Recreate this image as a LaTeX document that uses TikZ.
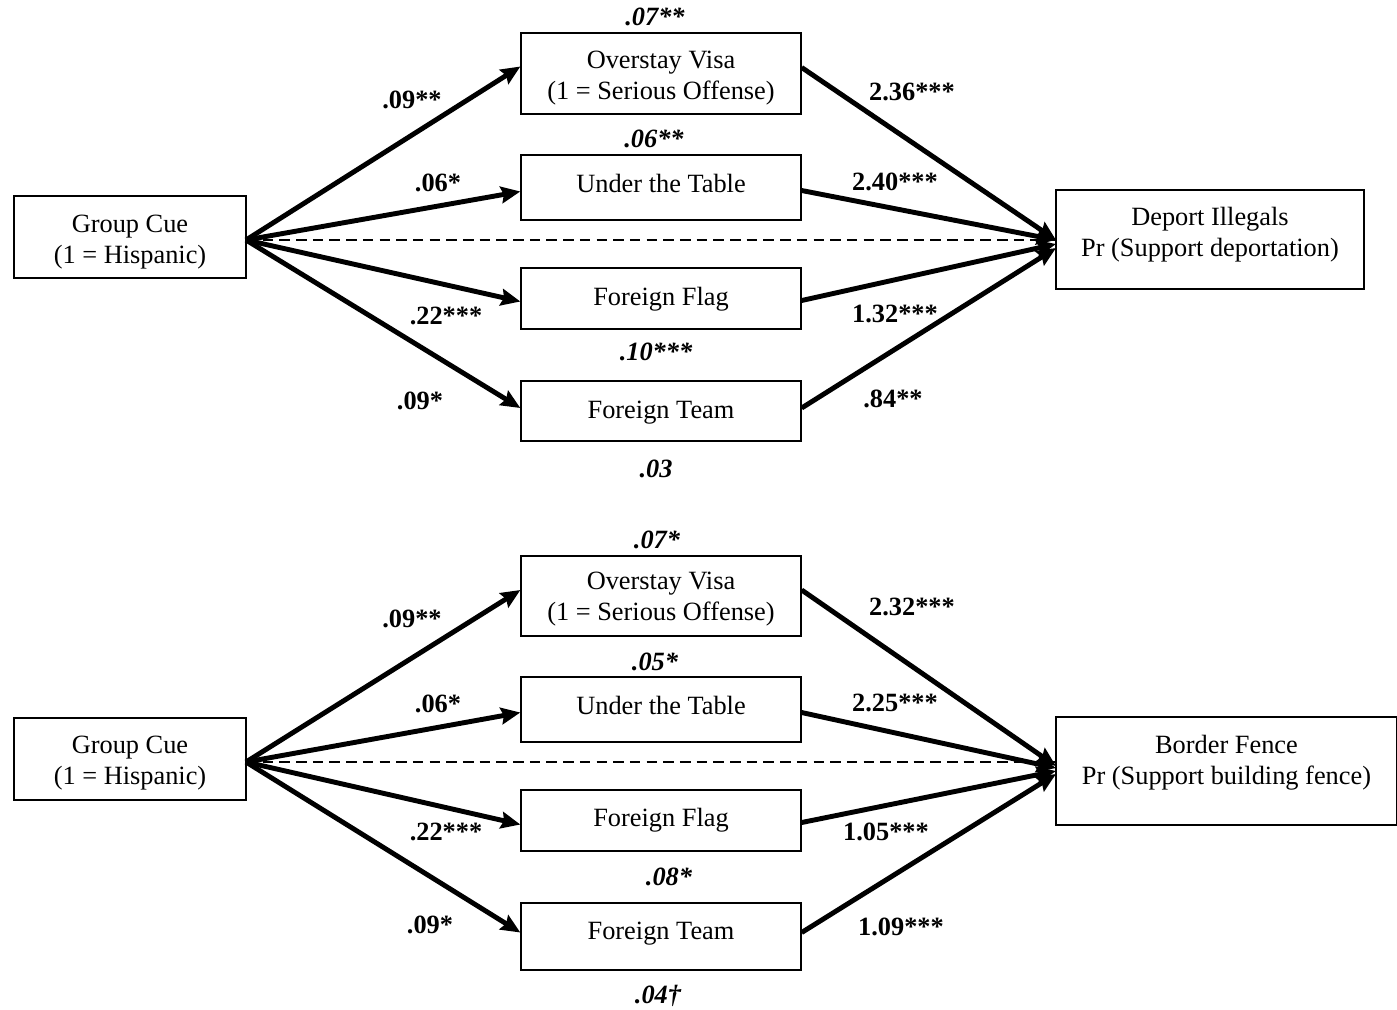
\documentclass[tikz,border=0pt]{standalone}
\usepackage{fontspec}
\setmainfont{Liberation Serif}
\usetikzlibrary{arrows.meta,calc}
\begin{document}
\begin{tikzpicture}[x=0.02cm,y=-0.02cm,
  box/.style={draw,line width=0.8pt,inner sep=0pt},
  txt/.style={inner sep=0pt,align=center,font=\fontsize{15}{17.6}\selectfont},
  arr/.style={line width=2.8pt,-{Stealth[length=11pt,width=9.5pt,inset=1.5pt]}},
  dsh/.style={line width=0.9pt,dash pattern=on 6pt off 3.5pt},
  lab/.style={font=\fontsize{15}{17.6}\selectfont\bfseries},
  ilab/.style={font=\fontsize{15}{17.6}\selectfont\bfseries\itshape}]
\useasboundingbox (0,0) rectangle (1397,1009);
% ---------- top panel ----------
\node[box,minimum width=4.64cm,minimum height=1.64cm] (gcA) at (130,237) {};
\node[box,minimum width=5.6cm,minimum height=1.62cm] (ovA) at (661,73.5) {};
\node[box,minimum width=5.6cm,minimum height=1.3cm] (utA) at (661,187.5) {};
\node[box,minimum width=5.6cm,minimum height=1.22cm] (ffA) at (661,298.5) {};
\node[box,minimum width=5.6cm,minimum height=1.2cm] (ftA) at (661,411) {};
\node[box,minimum width=6.16cm,minimum height=1.98cm] (dpA) at (1210,239.5) {};
\node[txt] (gcAt) at (130,242) {Group Cue\\(1 = Hispanic)};
\node[txt] (ovAt) at (661,78.5) {Overstay Visa\\(1 = Serious Offense)};
\node[txt] (utAt) at (661,183) {Under the Table};
\node[txt] (ffAt) at (661,299) {Foreign Flag};
\node[txt] (ftAt) at (661,413) {Foreign Team};
\node[txt] (dpAt) at (1210,234.5) {Deport Illegals\\Pr (Support deportation)};
\coordinate (sA) at (246,240);
\coordinate (tA) at (1056,240);
\draw[arr] (sA) -- ($(ovA.west)+(0,-7)$);
\draw[arr] (sA) -- ($(utA.west)+(0,4)$);
\draw[arr] (sA) -- ($(ffA.west)+(0,3)$);
\draw[arr] (sA) -- ($(ftA.west)+(0,-3)$);
\draw[dsh] (sA) -- (tA);
\draw[arr] ($(ovA.east)+(0,-6)$) -- (tA);
\draw[arr] ($(utA.east)+(0,3)$) -- (tA);
\draw[arr] ($(ffA.east)+(0,2)$) -- ($(tA)+(0,4)$);
\draw[arr] ($(ftA.east)+(0,-3)$) -- ($(tA)+(0,8)$);
\node[ilab] (lA1) at (655,17) {.07**};
\node[lab] (lA2) at (412,100) {.09**};
\node[lab] (lA3) at (912,92) {2.36***};
\node[ilab] (lA4) at (654,139) {.06**};
\node[lab] (lA5) at (438,183) {.06*};
\node[lab] (lA6) at (895,182) {2.40***};
\node[lab] (lA7) at (446,316) {.22***};
\node[lab] (lA8) at (895,314) {1.32***};
\node[ilab] (lA9) at (656,352) {.10***};
\node[lab] (lA10) at (420,401) {.09*};
\node[lab] (lA11) at (893,399) {.84**};
\node[ilab] (lA12) at (656,469) {.03};
% ---------- bottom panel ----------
\node[box,minimum width=4.64cm,minimum height=1.64cm] (gcB) at (130,759) {};
\node[box,minimum width=5.6cm,minimum height=1.6cm] (ovB) at (661,596) {};
\node[box,minimum width=5.6cm,minimum height=1.3cm] (utB) at (661,709.5) {};
\node[box,minimum width=5.6cm,minimum height=1.22cm] (ffB) at (661,820.5) {};
\node[box,minimum width=5.6cm,minimum height=1.34cm] (ftB) at (661,936.5) {};
\node[box,minimum width=6.82cm,minimum height=2.16cm] (bfB) at (1226.5,771) {};
\node[txt] (gcBt) at (130,763.5) {Group Cue\\(1 = Hispanic)};
\node[txt] (ovBt) at (661,599) {Overstay Visa\\(1 = Serious Offense)};
\node[txt] (utBt) at (661,705) {Under the Table};
\node[txt] (ffBt) at (661,820) {Foreign Flag};
\node[txt] (ftBt) at (661,934) {Foreign Team};
\node[txt] (bfBt) at (1226.5,763) {Border Fence\\Pr (Support building fence)};
\coordinate (sB) at (246,762);
\coordinate (tB) at (1056,766);
\draw[arr] (sB) -- ($(ovB.west)+(0,-6)$);
\draw[arr] (sB) -- ($(utB.west)+(0,3)$);
\draw[arr] (sB) -- ($(ffB.west)+(0,4)$);
\draw[arr] (sB) -- ($(ftB.west)+(0,-4)$);
\draw[dsh] (sB) -- ($(tB)+(0,-4)$);
\draw[arr] ($(ovB.east)+(0,-6)$) -- (tB);
\draw[arr] ($(utB.east)+(0,3)$) -- ($(tB)+(0,2)$);
\draw[arr] ($(ffB.east)+(0,2)$) -- ($(tB)+(0,5)$);
\draw[arr] ($(ftB.east)+(0,-4)$) -- ($(tB)+(0,8)$);
\node[ilab] (lB1) at (657,540) {.07*};
\node[lab] (lB2) at (412,619) {.09**};
\node[lab] (lB3) at (912,607) {2.32***};
\node[ilab] (lB4) at (655,662) {.05*};
\node[lab] (lB5) at (438,704) {.06*};
\node[lab] (lB6) at (895,703) {2.25***};
\node[lab] (lB7) at (446,832) {.22***};
\node[lab] (lB8) at (886,832) {1.05***};
\node[ilab] (lB9) at (669,877) {.08*};
\node[lab] (lB10) at (430,925) {.09*};
\node[lab] (lB11) at (901,927) {1.09***};
\node[ilab] (lB12) at (658,996) {.04†};
\end{tikzpicture}
\end{document}
